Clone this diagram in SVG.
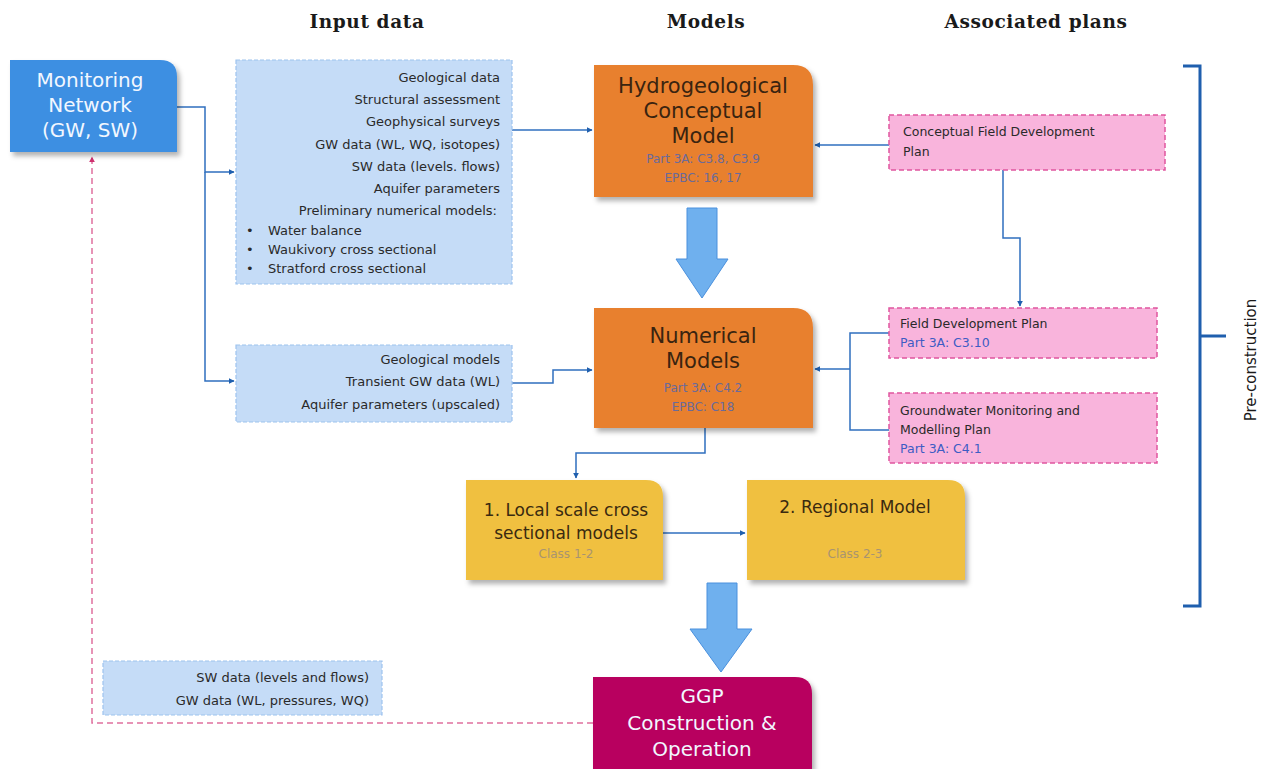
<svg xmlns="http://www.w3.org/2000/svg" width="1264" height="769" viewBox="0 0 1264 769">
<style>
.hdr{font-family:"DejaVu Serif",serif;font-weight:bold;font-size:18.5px;fill:#1a1a1a;text-anchor:middle;letter-spacing:0.6px}
.in{font-family:"DejaVu Sans",sans-serif;font-size:13px;fill:#2a2a2a}
.r{text-anchor:end}
.big{font-family:"DejaVu Sans",sans-serif;font-size:21px;fill:#3a2410;text-anchor:middle}
.wbig{font-family:"DejaVu Sans",sans-serif;font-size:20px;fill:#f2f7ff;text-anchor:middle}
.ref{font-family:"DejaVu Sans",sans-serif;font-size:12px;fill:#6a6a9a;text-anchor:middle}
.pl{font-family:"DejaVu Sans",sans-serif;font-size:12.5px;fill:#2a2a2a}
.plref{font-family:"DejaVu Sans",sans-serif;font-size:12.5px;fill:#3d5cc4}
.inbox{fill:#c5dcf7;stroke:#9ec3ee;stroke-width:1.2;stroke-dasharray:4 2}
.pink{fill:#f9b4dc;stroke:#e0559f;stroke-width:1.5;stroke-dasharray:5 3}
.con{fill:none;stroke:#2f6fbf;stroke-width:1.5}
.yel{fill:#f0c040}
.org{fill:#e8802f}
.cls{font-family:"DejaVu Sans",sans-serif;font-size:12px;fill:#a89470;text-anchor:middle}
.ytxt{font-family:"DejaVu Sans",sans-serif;font-size:17px;fill:#3a2a10;text-anchor:middle}
</style>
<defs>
<marker id="ah" viewBox="0 0 10 10" refX="9" refY="5" markerWidth="6" markerHeight="6" orient="auto" markerUnits="userSpaceOnUse"><path d="M0,0 L10,5 L0,10 z" fill="#1f5fae"/></marker>
<marker id="ahp" viewBox="0 0 10 10" refX="9" refY="5" markerWidth="6" markerHeight="6" orient="auto" markerUnits="userSpaceOnUse"><path d="M0,0 L10,5 L0,10 z" fill="#d0306f"/></marker>
<filter id="sh" x="-5%" y="-5%" width="115%" height="120%"><feDropShadow dx="3" dy="4" stdDeviation="2.5" flood-color="#000" flood-opacity="0.3"/></filter>
</defs>
<rect width="1264" height="769" fill="#fff"/>

<text class="hdr" x="367" y="28">Input data</text>
<text class="hdr" x="706" y="28">Models</text>
<text class="hdr" x="1036" y="28">Associated plans</text>

<g id="connectors">
<path class="con" d="M177,107 H205 V172 H234" marker-end="url(#ah)"/>
<path class="con" d="M205,172 V381 H234" marker-end="url(#ah)"/>
<path class="con" d="M512,130 H592" marker-end="url(#ah)"/>
<path class="con" d="M512,383 H553 V370 H592" marker-end="url(#ah)"/>
<path class="con" d="M889,145 H815" marker-end="url(#ah)"/>
<path class="con" d="M1003,170 V238 H1020 V306" marker-end="url(#ah)"/>
<path class="con" d="M889,333 H850 V430 H889"/>
<path class="con" d="M850,369 H815" marker-end="url(#ah)"/>
<path class="con" d="M705,428 V453 H576 V478" marker-end="url(#ah)"/>
<path class="con" d="M663,533 H745" marker-end="url(#ah)"/>
<path d="M593,723 H92 V157" fill="none" stroke="#e0709f" stroke-width="1.5" stroke-dasharray="6 4" marker-end="url(#ahp)"/>
<path d="M687,208 H717 V259 H728 L702,298 L676,259 H687 Z" fill="#6fb0ee" stroke="#4a90dd" stroke-width="1"/>
<path d="M707,583 H737 V629 H752 L721,672 L690,629 H707 Z" fill="#6fb0ee" stroke="#4a90dd" stroke-width="1"/>
</g>

<g id="monitoring">
<path d="M10,60 H160 Q177,60 177,77 V152 H10 Z" fill="#3d8fe2" filter="url(#sh)"/>
<text class="wbig" x="90" y="87">Monitoring</text>
<text class="wbig" x="90" y="112">Network</text>
<text class="wbig" x="90" y="137">(GW, SW)</text>
</g>

<g id="input1">
<rect class="inbox" x="236" y="60" width="276" height="224"/>
<text class="in r" x="500" y="82">Geological data</text>
<text class="in r" x="500" y="104">Structural assessment</text>
<text class="in r" x="500" y="126">Geophysical surveys</text>
<text class="in r" x="500" y="149">GW data (WL, WQ, isotopes)</text>
<text class="in r" x="500" y="171">SW data (levels. flows)</text>
<text class="in r" x="500" y="193">Aquifer parameters</text>
<text class="in r" x="497" y="215">Preliminary numerical models:</text>
<text class="in" x="246" y="235">•</text><text class="in" x="268" y="235">Water balance</text>
<text class="in" x="246" y="254">•</text><text class="in" x="268" y="254">Waukivory cross sectional</text>
<text class="in" x="246" y="273">•</text><text class="in" x="268" y="273">Stratford cross sectional</text>
</g>

<g id="input2">
<rect class="inbox" x="236" y="345" width="276" height="77"/>
<text class="in r" x="500" y="364">Geological models</text>
<text class="in r" x="500" y="386">Transient GW data (WL)</text>
<text class="in r" x="500" y="409">Aquifer parameters (upscaled)</text>
</g>

<g id="input3">
<rect class="inbox" x="103" y="661" width="279" height="54"/>
<text class="in r" x="369" y="682">SW data (levels and flows)</text>
<text class="in r" x="369" y="705">GW data (WL, pressures, WQ)</text>
</g>

<g id="hcm">
<path class="org" d="M594,65 H793 Q813,65 813,85 V197 H594 Z" filter="url(#sh)"/>
<text class="big" x="703" y="93">Hydrogeological</text>
<text class="big" x="703" y="118">Conceptual</text>
<text class="big" x="703" y="143">Model</text>
<text class="ref" x="703" y="163">Part 3A: C3.8, C3.9</text>
<text class="ref" x="703" y="182">EPBC: 16, 17</text>
</g>

<g id="numerical">
<path class="org" d="M594,308 H793 Q813,308 813,328 V428 H594 Z" filter="url(#sh)"/>
<text class="big" x="703" y="343">Numerical</text>
<text class="big" x="703" y="368">Models</text>
<text class="ref" x="703" y="392">Part 3A: C4.2</text>
<text class="ref" x="703" y="411">EPBC: C18</text>
</g>

<g id="cfdp">
<rect class="pink" x="889" y="115" width="276" height="55"/>
<text class="pl" x="903" y="136">Conceptual Field Development</text>
<text class="pl" x="903" y="156">Plan</text>
</g>

<g id="fdp">
<rect class="pink" x="889" y="308" width="268" height="50"/>
<text class="pl" x="900" y="328">Field Development Plan</text>
<text class="plref" x="900" y="347">Part 3A: C3.10</text>
</g>

<g id="gmmp">
<rect class="pink" x="889" y="393" width="268" height="70"/>
<text class="pl" x="900" y="415">Groundwater Monitoring and</text>
<text class="pl" x="900" y="434">Modelling Plan</text>
<text class="plref" x="900" y="453">Part 3A: C4.1</text>
</g>

<g id="local">
<path class="yel" d="M466,480 H646 Q663,480 663,497 V580 H466 Z" filter="url(#sh)"/>
<text class="ytxt" x="566" y="516">1. Local scale cross</text>
<text class="ytxt" x="566" y="539">sectional models</text>
<text class="cls" x="566" y="558">Class 1-2</text>
</g>

<g id="regional">
<path class="yel" d="M747,480 H948 Q965,480 965,497 V580 H747 Z" filter="url(#sh)"/>
<text class="ytxt" x="855" y="513">2. Regional Model</text>
<text class="cls" x="855" y="558">Class 2-3</text>
</g>

<g id="ggp">
<path d="M593,677 H795 Q812,677 812,694 V769 H593 Z" fill="#b8005e" filter="url(#sh)"/>
<text class="wbig" x="702" y="703">GGP</text>
<text class="wbig" x="702" y="730">Construction &amp;</text>
<text class="wbig" x="702" y="756">Operation</text>
</g>

<g id="bracket">
<path d="M1183,66 H1200 V606 H1183 M1200,336 H1226" fill="none" stroke="#1f5fae" stroke-width="3"/>
<text transform="translate(1256,360) rotate(-90)" font-family="DejaVu Sans, sans-serif" font-size="15" fill="#1a1a1a" text-anchor="middle">Pre-construction</text>
</g>
</svg>
